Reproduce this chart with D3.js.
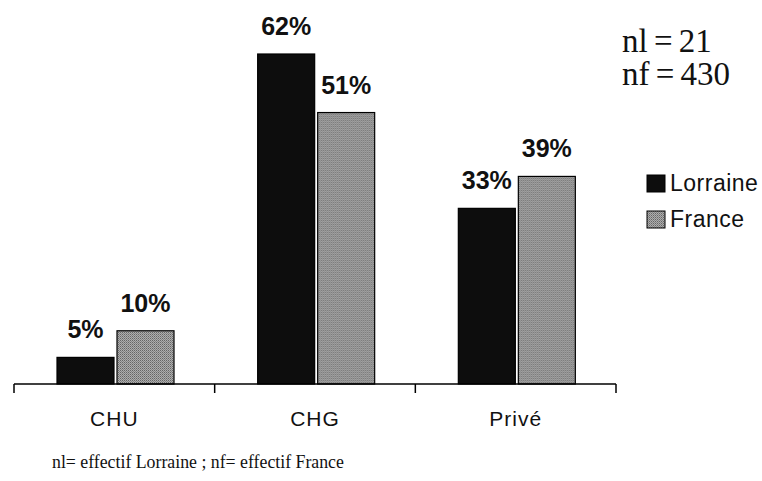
<!DOCTYPE html>
<html><head><meta charset="utf-8">
<script src="https://cdn.jsdelivr.net/npm/d3@7"></script>
<style>body{margin:0;background:#fff}svg{display:block}</style>
</head><body><svg id="c" width="762" height="481"></svg>
<script>
const categories = ["CHU", "CHG", "Privé"];
const seriesNames = ["Lorraine", "France"];
const lorraine = [5, 62, 33];
const france = [10, 51, 39];
const sampleNotes = ["nl = 21", "nf = 430"];
const footnote = "nl= effectif Lorraine ; nf= effectif France";

const svg = d3.select("#c");
const defs = svg.append("defs");
const pat = defs.append("pattern").attr("id","grayPat").attr("width",2).attr("height",2).attr("patternUnits","userSpaceOnUse");
pat.append("rect").attr("width",2).attr("height",2).attr("fill","#aeaeae");
pat.append("rect").attr("width",1).attr("height",1).attr("fill","#666");
pat.append("rect").attr("x",1).attr("y",1).attr("width",1).attr("height",1).attr("fill","#848484");

const fills = {Lorraine: "#0d0d0d", France: "url(#grayPat)"};
const data = categories.map((c,i)=>({cat:c, vals:[{s:"Lorraine",v:lorraine[i]},{s:"France",v:france[i]}]}));

const x0 = d3.scaleBand().domain(categories).range([14, 616]);
const x1 = d3.scaleBand().domain(seriesNames).range([43, 160]).paddingInner(0.05);
const y = d3.scaleLinear().domain([0, 62]).range([384, 54]);

const g = svg.append("g");
const groups = g.selectAll("g.grp").data(data).join("g").attr("transform", d=>`translate(${x0(d.cat)},0)`);
groups.selectAll("rect").data(d=>d.vals).join("rect")
  .attr("x", d=>x1(d.s)).attr("width", x1.bandwidth())
  .attr("y", d=>y(d.v)).attr("height", d=>y(0)-y(d.v))
  .attr("fill", d=>fills[d.s]).attr("stroke","#000").attr("stroke-width",1.2);
groups.selectAll("text.val").data(d=>d.vals).join("text").attr("class","val")
  .attr("x", d=>x1(d.s)+x1.bandwidth()/2).attr("y", d=>y(d.v)-19)
  .attr("text-anchor","middle").attr("font-family","Liberation Sans, Arial, sans-serif")
  .attr("font-weight","bold").attr("font-size",25).attr("fill","#111")
  .text(d=>d.v+"%");

// axis
const [r0, r1] = x0.range();
g.append("line").attr("x1",r0).attr("x2",r1).attr("y1",y(0)).attr("y2",y(0)).attr("stroke","#000").attr("stroke-width",1.5);
const tickPos = categories.map(c=>x0(c)).concat([r1]);
g.selectAll("line.tick").data(tickPos).join("line").attr("class","tick")
  .attr("x1",d=>d).attr("x2",d=>d).attr("y1",y(0)).attr("y2",y(0)+9).attr("stroke","#000").attr("stroke-width",1.5);
g.selectAll("text.cat").data(categories).join("text").attr("class","cat")
  .attr("x", d=>x0(d)+x0.bandwidth()/2).attr("y", 426)
  .attr("text-anchor","middle").attr("font-family","Liberation Sans, Arial, sans-serif")
  .attr("font-size",21).attr("letter-spacing",1).attr("fill","#111").text(d=>d);

// legend
const leg = svg.append("g").attr("transform","translate(647,175)");
const li = leg.selectAll("g").data(seriesNames).join("g").attr("transform",(d,i)=>`translate(0,${i*36})`);
li.append("rect").attr("width",18).attr("height",17).attr("fill",d=>fills[d]).attr("stroke","#000").attr("stroke-width",1);
li.append("text").attr("x",23).attr("y",16).attr("font-family","Liberation Sans, Arial, sans-serif")
  .attr("font-size",23).attr("letter-spacing",0.5).attr("fill","#111").text(d=>d);

// notes
svg.selectAll("text.note").data(sampleNotes).join("text").attr("class","note")
  .attr("x",622).attr("y",(d,i)=>52+i*33).attr("font-family","Liberation Serif, Times New Roman, serif")
  .attr("font-size",33).attr("word-spacing",-2).attr("fill","#111").text(d=>d);
svg.append("text").attr("x",52).attr("y",468).attr("font-family","Liberation Serif, Times New Roman, serif")
  .attr("font-size",17.8).attr("fill","#111").text(footnote);
</script></body></html>
